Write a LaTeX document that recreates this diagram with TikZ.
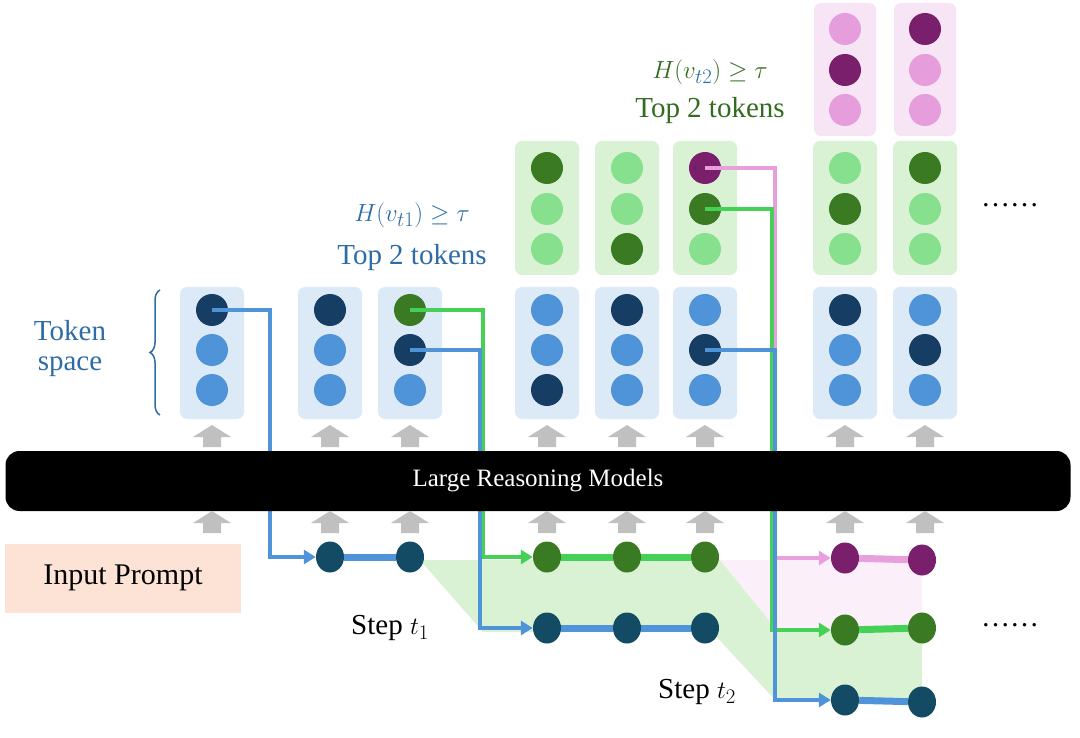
\documentclass[tikz,border=0pt]{standalone}
\usepackage{fontspec}
\setmainfont{Liberation Serif}
\usetikzlibrary{decorations.pathreplacing}
\definecolor{bbox}{HTML}{DCE9F6}\definecolor{lb}{HTML}{4F93D9}\definecolor{db}{HTML}{163D64}
\definecolor{teal}{HTML}{124B63}\definecolor{gbox}{HTML}{D9F2D3}\definecolor{lg}{HTML}{86E08E}
\definecolor{dg}{HTML}{3A7A22}\definecolor{pbox}{HTML}{F7E4F4}\definecolor{lp}{HTML}{E59EDB}
\definecolor{pu}{HTML}{7A1F6B}\definecolor{gl}{HTML}{45D155}\definecolor{pl}{HTML}{E8A0DC}
\definecolor{gy}{HTML}{C0C0C0}\definecolor{tb}{HTML}{2D6CA6}\definecolor{tg}{HTML}{336B1F}
\definecolor{peach}{HTML}{FDE3D5}
\begin{document}
\begin{tikzpicture}[x=1pt,y=-1pt,
  tok/.style={circle,minimum size=32pt,inner sep=0pt},
  sn/.style={ellipse,minimum width=28pt,minimum height=31pt,inner sep=0pt,fill=teal},
  bx/.style={rounded corners=7pt},
  con/.style={line width=4pt},
  ar/.style={line width=4pt,-{Triangle[length=12pt,width=14pt]}},
  gar/.style={fill=gy}]
\useasboundingbox (0,0) rectangle (1080,738);
\usetikzlibrary{shapes.geometric,arrows.meta}
% boxes
\foreach \x in {212,330,410,547,627,705,845,925}{\fill[bbox,bx] (\x-32,287) rectangle (\x+32,419);}
\foreach \x in {547,627,705,845,925}{\fill[gbox,bx] (\x-32,141) rectangle (\x+32,275);}
\foreach \x in {845,925}{\fill[pbox,bx] (\x-31,3) rectangle (\x+31,136);}
% token circles: column, colors
\foreach \n/\x/\a/\b/\c in {1/212/db/lb/lb,2/330/db/lb/lb,3/410/dg/db/lb,4/547/lb/lb/db,5/627/db/lb/lb,6/705/lb/db/lb,7/845/db/lb/lb,8/925/lb/db/lb}{
  \node[tok,fill=\a] (b\n a) at (\x,310) {};
  \node[tok,fill=\b] (b\n b) at (\x,350) {};
  \node[tok,fill=\c] (b\n c) at (\x,390) {};}
\foreach \n/\x/\a/\b/\c in {4/547/dg/lg/lg,5/627/lg/lg/dg,6/705/pu/dg/lg,7/845/lg/dg/lg,8/925/dg/lg/lg}{
  \node[tok,fill=\a] (g\n a) at (\x,168) {};
  \node[tok,fill=\b] (g\n b) at (\x,209) {};
  \node[tok,fill=\c] (g\n c) at (\x,249) {};}
\foreach \n/\x/\a/\b/\c in {7/845/lp/pu/lp,8/925/pu/lp/lp}{
  \node[tok,fill=\a] (p\n a) at (\x,29) {};
  \node[tok,fill=\b] (p\n b) at (\x,70) {};
  \node[tok,fill=\c] (p\n c) at (\x,110) {};}
% shaded regions
\fill[gbox] (420,560)--(720,560)--(777,630)--(922,630)--(922,702)--(777,702)--(712,632)--(483,632)--cycle;
\fill[pbox!80!pl!40] (720,560)--(922,560)--(922,630)--(777,630)--cycle;
% step nodes
\node[sn] (s1) at (330,557) {};\node[sn] (s2) at (410,557) {};
\node[sn,fill=dg] (r1) at (547,557) {};\node[sn,fill=dg] (r2) at (627,557) {};\node[sn,fill=dg] (r3) at (705,557) {};
\node[sn] (q1) at (547,628) {};\node[sn] (q2) at (627,628) {};\node[sn] (q3) at (705,628) {};
\node[sn,fill=pu] (u1) at (845,558) {};\node[sn,fill=pu] (u2) at (922,560) {};
\node[sn,fill=dg] (v1) at (845,630) {};\node[sn,fill=dg] (v2) at (922,628) {};
\node[sn] (w1) at (845,700) {};\node[sn] (w2) at (922,702) {};
% connectors
\coordinate (c1) at (270,310);\coordinate (c1b) at (270,557);
\draw[lb,ar] (b1a.center)--(c1)--(c1b)--(s1);
\coordinate (c3) at (483,310);\coordinate (c3b) at (483,557);
\draw[gl,ar] (b3a.center)--(c3)--(c3b)--(r1);
\coordinate (c4) at (480,350);\coordinate (c4b) at (480,628);
\draw[lb,ar] (b3b.center)--(c4)--(c4b)--(q1);
\coordinate (c5) at (775,168);\coordinate (c5b) at (775,558);
\draw[pl,ar] (g6a.center)--(c5)--(c5b)--(u1);
\coordinate (c6) at (772,209);\coordinate (c6b) at (772,630);
\draw[gl,ar] (g6b.center)--(c6)--(c6b)--(v1);
\coordinate (c7) at (775,350);\coordinate (c7b) at (775,700);
\draw[lb,ar] (b6b.center)--(c7)--(c7b)--(w1);
\draw[lb,line width=7pt] (s1)--(s2);
\draw[gl,line width=7pt] (r1)--(r2)--(r3);
\draw[lb,line width=7pt] (q1)--(q2)--(q3);
\draw[pl,line width=7pt] (u1)--(u2);
\draw[gl,line width=7pt] (v1)--(v2);
\draw[lb,line width=7pt] (w1)--(w2);
% redraw nodes on top
\foreach \m in {b1a,b3a,b3b,g6a,g6b,b6b}{}
% bar
\node[fill=black,rounded corners=14pt,minimum width=1065pt,minimum height=60pt,text=white,font=\fontsize{25}{28}\selectfont] (lrm) at (538,481) {Large Reasoning Models};
% gray arrows
\foreach \x in {212,330,410,547,627,705,845,925}{
  \fill[gy] (\x-9,447)--(\x-9,437)--(\x-19,437)--(\x,425)--(\x+19,437)--(\x+9,437)--(\x+9,447)--cycle;
  \fill[gy] (\x-9,533)--(\x-9,523)--(\x-19,523)--(\x,511)--(\x+19,523)--(\x+9,523)--(\x+9,533)--cycle;}
% input prompt
\node[fill=peach,minimum width=236pt,minimum height=69pt,font=\fontsize{30}{34}\selectfont] (ip) at (123,578) {Input Prompt};
% labels
\node[font=\fontsize{29}{32}\selectfont] (st1) at (390,628) {Step $t_1$};
\node[font=\fontsize{29}{32}\selectfont] (st2) at (697,692) {Step $t_2$};
\node[text=tb,font=\fontsize{29}{32}\selectfont] (h1) at (412,215) {$H(v_{t1})\geq\tau$};
\node[text=tb,font=\fontsize{29}{32}\selectfont] (tt1) at (412,258) {Top 2 tokens};
\node[text=tg,font=\fontsize{29}{32}\selectfont] (h2) at (710,72) {$H(v_{\textcolor{tb}{t2}})\geq\tau$};
\node[text=tg,font=\fontsize{29}{32}\selectfont] (tt2) at (710,111) {Top 2 tokens};
\node[text=tb,font=\fontsize{29}{30}\selectfont,align=center] (ts) at (70,349) {Token\\space};
\draw[tb,line width=1.5pt,decorate,decoration={brace,amplitude=10pt}] (160,415)--(160,290);
\node[font=\fontsize{29}{32}\selectfont] (d1) at (1010,205) {\dots\dots};
\node[font=\fontsize{29}{32}\selectfont] (d2) at (1010,625) {\dots\dots};
\end{tikzpicture}
\end{document}
